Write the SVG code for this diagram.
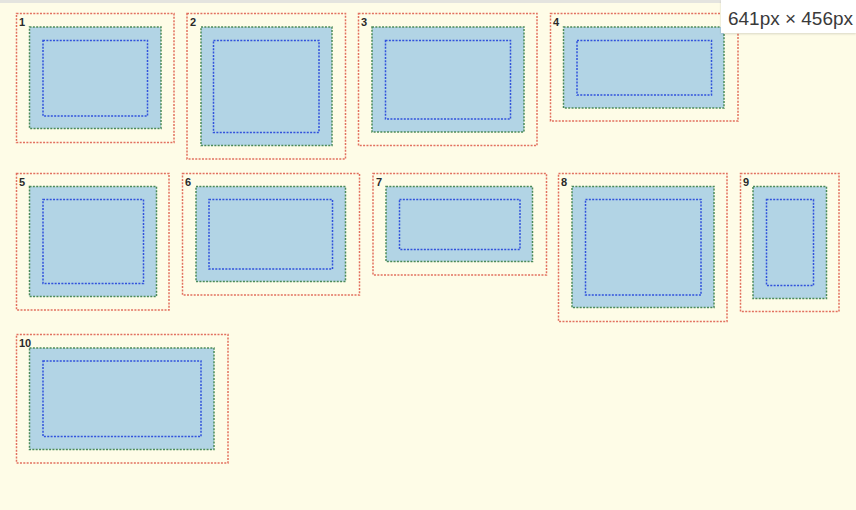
<svg xmlns="http://www.w3.org/2000/svg" width="856" height="510" viewBox="0 0 856 510">
<defs>
<style>
.bg{fill:#fefce7}
.outer{fill:none;stroke:#e2705f;stroke-width:1.5;stroke-dasharray:2 1.35}
.box{fill:#b2d4e5;stroke:#4b8a58;stroke-width:1.5;stroke-dasharray:2 1.35}
.inner{fill:none;stroke:#3152dc;stroke-width:1.5;stroke-dasharray:2 1.35}
.num{font-family:"Liberation Sans",Arial,sans-serif;font-size:11px;font-weight:bold;fill:#2a2a2a}
.dim{font-family:"Liberation Sans",Arial,sans-serif;font-size:18px;fill:#3a3a3a}
</style>
<filter id="sh" x="-10%" y="-20%" width="120%" height="150%">
<feDropShadow dx="0" dy="1" stdDeviation="1.2" flood-color="#000" flood-opacity="0.15"/>
</filter>
</defs>
<rect class="bg" x="0" y="0" width="856" height="510"/>
<rect x="0" y="0" width="856" height="3" fill="#e4e4df"/>

<g id="item1">
<rect class="outer" x="16.5" y="13.5" width="157.5" height="129"/>
<rect class="box" x="29.5" y="27" width="131.5" height="101.5"/>
<rect class="inner" x="43" y="40.5" width="104.5" height="75.5"/>
<text class="num" x="19" y="26">1</text>
</g>
<g id="item2">
<rect class="outer" x="187" y="13.5" width="158.5" height="145.5"/>
<rect class="box" x="201" y="27" width="131" height="118.5"/>
<rect class="inner" x="213.5" y="40.5" width="105.5" height="92"/>
<text class="num" x="190" y="26">2</text>
</g>
<g id="item3">
<rect class="outer" x="358.5" y="13.5" width="178.5" height="132"/>
<rect class="box" x="372" y="27" width="152" height="105"/>
<rect class="inner" x="385.5" y="40.5" width="125" height="78.5"/>
<text class="num" x="361" y="26">3</text>
</g>
<g id="item4">
<rect class="outer" x="550.5" y="13.5" width="187.5" height="107.5"/>
<rect class="box" x="563.5" y="27" width="160.5" height="81"/>
<rect class="inner" x="577" y="40.5" width="134.5" height="54.5"/>
<text class="num" x="553" y="26">4</text>
</g>

<g id="item5">
<rect class="outer" x="16.5" y="173.5" width="152.5" height="136.5"/>
<rect class="box" x="29.5" y="186.5" width="127" height="110"/>
<rect class="inner" x="43" y="199.5" width="100.5" height="84"/>
<text class="num" x="19" y="186">5</text>
</g>
<g id="item6">
<rect class="outer" x="182.5" y="173.5" width="177" height="121.5"/>
<rect class="box" x="196" y="186.5" width="149.5" height="95"/>
<rect class="inner" x="209" y="199.5" width="123.5" height="69.5"/>
<text class="num" x="185" y="186">6</text>
</g>
<g id="item7">
<rect class="outer" x="373" y="173.5" width="173.5" height="101.5"/>
<rect class="box" x="386" y="186.5" width="146.5" height="75"/>
<rect class="inner" x="399.5" y="199.5" width="120.5" height="50"/>
<text class="num" x="376" y="186">7</text>
</g>
<g id="item8">
<rect class="outer" x="558.5" y="173.5" width="168.5" height="148"/>
<rect class="box" x="572" y="186.5" width="142" height="121"/>
<rect class="inner" x="585.5" y="199.5" width="115.5" height="95.5"/>
<text class="num" x="561" y="186">8</text>
</g>
<g id="item9">
<rect class="outer" x="740.5" y="173.5" width="98.5" height="138"/>
<rect class="box" x="753" y="186.5" width="73.5" height="112"/>
<rect class="inner" x="766.5" y="199.5" width="47" height="86"/>
<text class="num" x="743" y="186">9</text>
</g>

<g id="item10">
<rect class="outer" x="16.5" y="334.5" width="211.5" height="128.5"/>
<rect class="box" x="29.5" y="348" width="184.5" height="101.5"/>
<rect class="inner" x="43" y="361" width="158" height="75.5"/>
<text class="num" x="19" y="347">10</text>
</g>

<g id="connectors"></g>

<g id="size-label">
<rect x="721" y="0" width="135" height="33" fill="#ffffff" filter="url(#sh)"/>
<text class="dim" x="728" y="25" textLength="125" lengthAdjust="spacingAndGlyphs">641px × 456px</text>
</g>
</svg>
